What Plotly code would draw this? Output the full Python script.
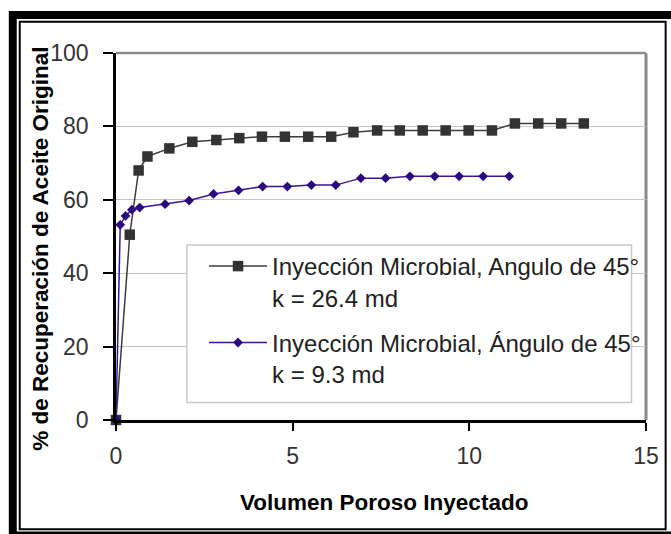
import plotly.graph_objects as go

# Pore volumes injected and recovery (% of original oil) for each run
vp_k264 = [0, 0.39, 0.64, 0.89, 1.51, 2.16, 2.84, 3.49, 4.13, 4.78, 5.44, 6.09,
           6.72, 7.39, 8.03, 8.68, 9.33, 9.98, 10.64, 11.29, 11.95, 12.60, 13.24]
rec_k264 = [0, 50.5, 68.0, 71.8, 74.0, 75.8, 76.3, 76.8, 77.2, 77.2, 77.2, 77.2,
            78.4, 78.9, 78.9, 78.9, 78.9, 78.9, 78.9, 80.8, 80.8, 80.8, 80.8]

vp_k93 = [0, 0.12, 0.27, 0.45, 0.67, 1.39, 2.07, 2.76, 3.47, 4.15, 4.85, 5.53,
          6.22, 6.93, 7.63, 8.32, 9.02, 9.71, 10.39, 11.13]
rec_k93 = [0, 53.2, 55.6, 57.3, 57.9, 58.8, 59.8, 61.6, 62.6, 63.6, 63.6, 64.0,
           64.0, 65.9, 65.9, 66.4, 66.4, 66.4, 66.4, 66.4]

names = ["Inyección Microbial, Angulo de 45°<br>k = 26.4 md",
         "Inyección Microbial, Ángulo de 45°<br>k = 9.3 md"]
x_ticks = [0, 5, 10, 15]
y_ticks = [0, 20, 40, 60, 80, 100]

W, H = 671, 534
ML, MR, MT, MB = 116, 21, 53, 114
PW, PH = W - ML - MR, H - MT - MB


def px(X):
    return (X - ML) / PW


def py(Y):
    return (H - MB - Y) / PH


FONT = "Arial, Liberation Sans, sans-serif"

fig = go.Figure()
fig.add_trace(go.Scatter(
    x=vp_k264, y=rec_k264, name=names[0], mode="lines+markers",
    line=dict(color="#3c3c3c", width=1.5),
    marker=dict(symbol="square", size=10.5, color="#333333"),
    legendgroup="a", cliponaxis=False,
))
fig.add_trace(go.Scatter(
    x=vp_k93, y=rec_k93, name=names[1], mode="lines+markers",
    line=dict(color="#3a1596", width=1.5),
    marker=dict(symbol="diamond", size=7.5, color="#2a0880"),
    legendgroup="b", cliponaxis=False,
))

shapes = [
    # outer black frame with inner white panel and thin rule
    dict(type="rect", xref="paper", yref="paper", layer="below",
         x0=px(8), x1=px(720), y0=py(11), y1=py(580),
         fillcolor="black", line=dict(width=0)),
    dict(type="rect", xref="paper", yref="paper", layer="below",
         x0=px(16), x1=px(700), y0=py(19), y1=py(531.5),
         fillcolor="white", line=dict(width=0)),
    dict(type="rect", xref="paper", yref="paper", layer="below",
         x0=px(19), x1=px(669.8), y0=py(21.8), y1=py(529.2),
         fillcolor="rgba(0,0,0,0)", line=dict(color="black", width=2)),
    # grey top and right borders of the plot area
    dict(type="line", xref="paper", yref="paper", layer="below",
         x0=0, x1=1, y0=1, y1=1, line=dict(color="#8a8a8a", width=2.5)),
    dict(type="line", xref="paper", yref="paper", layer="below",
         x0=1, x1=1, y0=0, y1=1, line=dict(color="#8a8a8a", width=3)),
    # legend box
    dict(type="rect", xref="paper", yref="paper", layer="above",
         x0=px(187.4), x1=px(635.4), y0=py(245), y1=py(402.6),
         fillcolor="white", line=dict(color="#c8c8c8", width=1.5)),
]

annotations = [
    dict(text="<b>% de Recuperación de Aceite Original</b>", textangle=-90,
         xref="paper", yref="paper", x=px(40.6), y=py(248.7),
         xanchor="center", yanchor="middle", showarrow=False,
         font=dict(family=FONT, size=22.5, color="black")),
    dict(text="<b>Volumen Poroso Inyectado</b>",
         xref="paper", yref="paper", x=px(385.8), y=py(502),
         xanchor="center", yanchor="middle", showarrow=False,
         font=dict(family=FONT, size=22.5, color="black")),
]

fig.update_layout(
    width=W, height=H,
    margin=dict(l=ML, r=MR, t=MT, b=MB),
    paper_bgcolor="white", plot_bgcolor="white",
    showlegend=True,
    legend=dict(x=px(204.7), y=py(244), xanchor="left", yanchor="top",
                bgcolor="rgba(0,0,0,0)", borderwidth=0,
                font=dict(family=FONT, size=24, color="#222222"),
                valign="top", itemwidth=58, tracegroupgap=11),
    shapes=shapes,
    annotations=annotations,
    font=dict(family=FONT),
)
fig.update_xaxes(
    range=[0, 15], tickvals=x_ticks, showgrid=False, zeroline=False,
    showline=True, linecolor="black", linewidth=2.5,
    ticks="outside", ticklen=8, tickwidth=2, tickcolor="black",
    tickfont=dict(family=FONT, size=23, color="#333333"),
    ticklabelstandoff=6,
)
fig.update_yaxes(
    range=[0, 100], tickvals=y_ticks, showgrid=True, gridcolor="#c4c4c4",
    gridwidth=1, zeroline=False,
    showline=True, linecolor="black", linewidth=2.5,
    ticks="outside", ticklen=10, tickwidth=2, tickcolor="black",
    tickfont=dict(family=FONT, size=23, color="#333333"),
    ticklabelstandoff=10,
)

fig.write_html("out.html")
